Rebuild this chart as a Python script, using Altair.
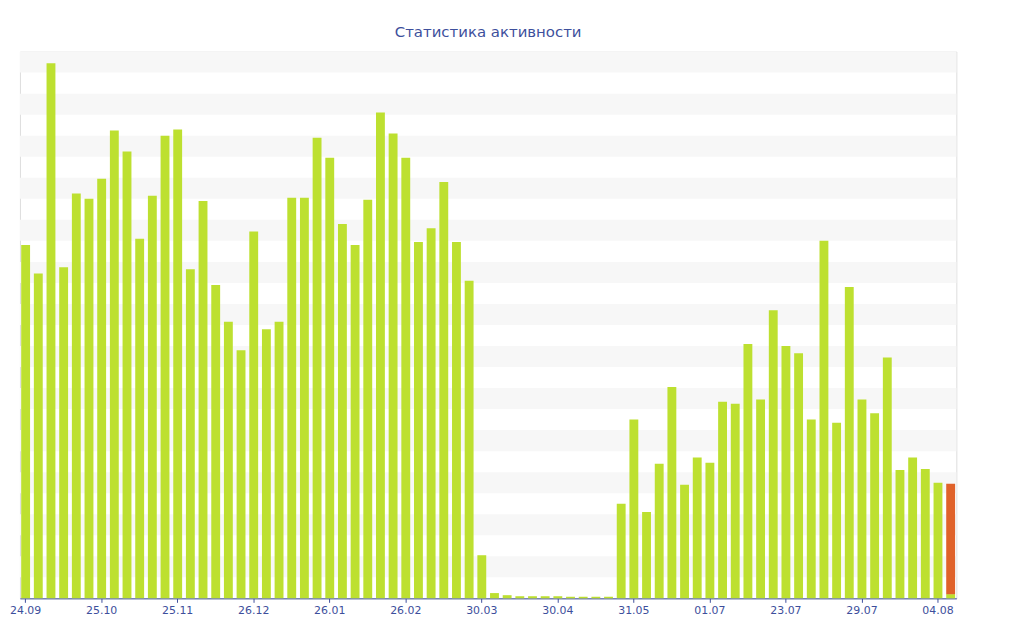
import altair as alt
import pandas as pd

values = [3360,3090,5090,3150,3850,3800,3990,4450,4250,3420,3830,4400,4460,3130,3780,2980,2630,2360,3490,2560,
          2630,3810,3810,4380,4190,3560,3360,3790,4620,4420,4190,3390,3520,3960,3390,3020,410,50,30,20,
          20,20,20,15,15,15,15,900,1700,820,1280,2010,1080,1340,1290,1870,1850,2420,1890,2740,
          2400,2330,1700,3400,1670,2960,1890,1760,2290,1220,1340,1230,1100,40]
current_total = 1090
tick_labels = ["24.09","25.10","25.11","26.12","26.01","26.02","30.03","30.04","31.05","01.07","23.07","29.07","04.08"]
label_every = 6

n = len(values)
df = pd.DataFrame({"i": list(range(n)), "v": values})
last = pd.DataFrame({"i": [n - 1], "y0": [values[-1]], "y1": [current_total]})
bands = pd.DataFrame({"b0": list(range(0, 5200, 400)), "b1": [b + 200 for b in range(0, 5200, 400)]})
bands = pd.DataFrame({"b0": [b + 200 for b in range(0, 5200, 400)], "b1": [b + 400 for b in range(0, 5200, 400)]})

blue = "#3d4f9c"
arr = "[" + ",".join(f"'{t}'" for t in tick_labels) + "]"
label_expr = f"datum.value % {label_every} == 0 ? {arr}[datum.value / {label_every}] : ''"

xs = alt.X("i:O", scale=alt.Scale(paddingInner=0.3, paddingOuter=0.1),
           axis=alt.Axis(title=None, labelExpr=label_expr, labelAngle=0, labelColor=blue,
                         domainColor=blue, tickColor=blue, tickSize=4, labelFontSize=11,
                         values=list(range(0, n, label_every)), labelPadding=2))
ys = alt.Scale(domain=[0, 5200], nice=False)

band_layer = alt.Chart(bands).mark_rect(color="#f7f7f7").encode(
    y=alt.Y("b0:Q", scale=ys, axis=None), y2="b1:Q",
    x=alt.value(0), x2=alt.value(942))

bar = alt.Chart(df).mark_bar(color="#bde030").encode(
    x=xs,
    y=alt.Y("v:Q", scale=ys, axis=alt.Axis(orient="right", title="Сообщений", values=list(range(0, 5201, 200)),
            grid=False, labelColor=blue, titleColor=blue, domainColor=blue, tickColor=blue,
            labelFontSize=11, titleFontSize=11, titleFontWeight="normal", tickSize=4, labelPadding=1,
            titleAngle=90, titlePadding=6)))

orange = alt.Chart(last).mark_bar(color="#e0622a").encode(
    x="i:O", y=alt.Y("y0:Q", scale=ys), y2="y1:Q")

chart = alt.layer(band_layer, bar, orange).properties(
    width=942, height=550,
    title=alt.TitleParams("Статистика активности", color=blue, fontSize=15, fontWeight="normal",
                          font="DejaVu Sans", offset=12),
    autosize=alt.AutoSizeParams(type="none"),
    padding={"left": 12, "top": 42, "right": 60, "bottom": 30},
).configure_view(stroke=None).configure(font="DejaVu Sans")

chart.save("out.html", embed_options={"renderer": "svg", "actions": False})
